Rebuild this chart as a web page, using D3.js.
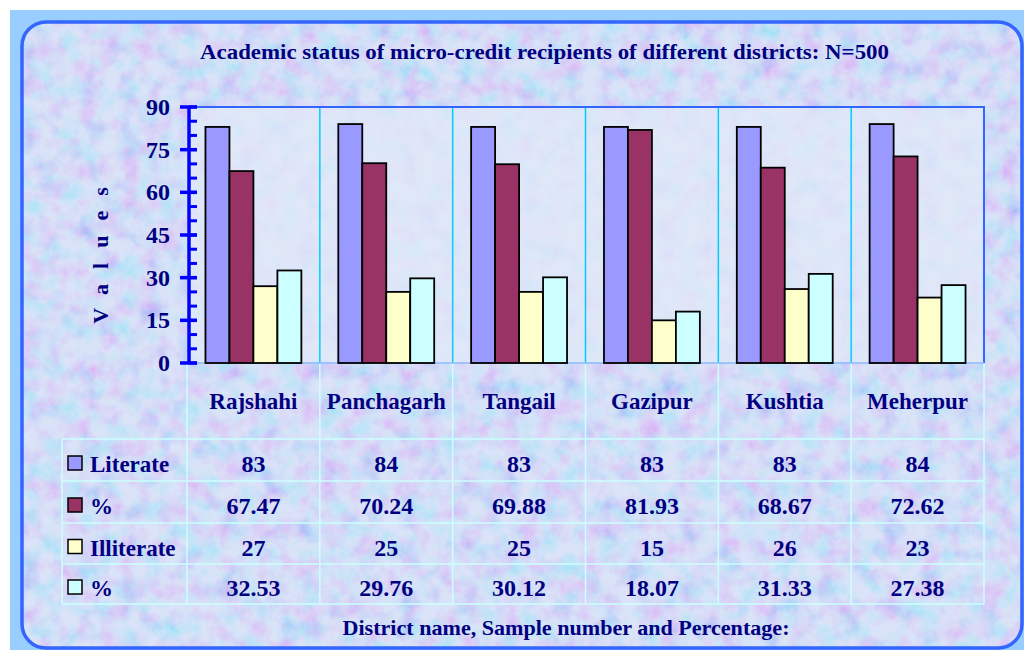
<!DOCTYPE html>
<html>
<head>
<meta charset="utf-8">
<script src="https://cdn.jsdelivr.net/npm/d3@7"></script>
<style>
	body { margin: 0; background: #fff; }
	svg { display: block; font-family: "Liberation Serif", "Times New Roman", serif; font-weight: bold; }
	.lbl { fill: #000080; }
</style>
</head>
<body>
<svg width="1024" height="650"></svg>
<script>
const districts = ["Rajshahi", "Panchagarh", "Tangail", "Gazipur", "Kushtia", "Meherpur"]
const seriesNames = ["Literate", "%", "Illiterate", "%"]
const literate = [83, 84, 83, 83, 83, 84]
const literatePct = [67.47, 70.24, 69.88, 81.93, 68.67, 72.62]
const illiterate = [27, 25, 25, 15, 26, 23]
const illiteratePct = [32.53, 29.76, 30.12, 18.07, 31.33, 27.38]
const yTicks = [0, 15, 30, 45, 60, 75, 90]
const colors = ["#9999ff", "#993366", "#ffffcc", "#ccffff"]

const series = [literate, literatePct, illiterate, illiteratePct]
const rowText = [
	literate.map(String),
	literatePct.map((d) => d.toFixed(2)),
	illiterate.map(String),
	illiteratePct.map((d) => d.toFixed(2)),
]

const svg = d3.select("svg")

// mottled pastel texture
const defs = svg.append("defs")
const f = defs.append("filter").attr("id", "tex").attr("x", 0).attr("y", 0).attr("width", 1).attr("height", 1)
f.append("feTurbulence").attr("type", "fractalNoise").attr("baseFrequency", 0.05).attr("numOctaves", 4).attr("seed", 7)
f.append("feColorMatrix")
	.attr("type", "matrix")
	.attr("values", "1.7 0 0 0 -0.02  0 1.5 0 0 0.1  0 0 0 0 0.97  0 0 0 0 0.38")
f.append("feComposite").attr("in2", "SourceGraphic").attr("operator", "in")

svg.append("rect").attr("x", 10).attr("y", 10).attr("width", 1014).attr("height", 640).attr("fill", "#99ccff")

const frame = { x: 22, y: 22, w: 1000, h: 626 }
svg.append("rect")
	.attr("x", frame.x).attr("y", frame.y).attr("width", frame.w).attr("height", frame.h)
	.attr("rx", 24)
	.attr("fill", "#c4d2f4")
svg.append("rect")
	.attr("x", frame.x).attr("y", frame.y).attr("width", frame.w).attr("height", frame.h)
	.attr("rx", 24)
	.attr("fill", "#c4d2f4")
	.attr("filter", "url(#tex)")
svg.append("rect")
	.attr("x", frame.x).attr("y", frame.y).attr("width", frame.w).attr("height", frame.h)
	.attr("rx", 24)
	.attr("fill", "none")
	.attr("stroke", "#3366ff")
	.attr("stroke-width", 3.5)

// scales
const x = d3.scaleBand().domain(districts).range([187, 984])
const xs = d3.scaleBand().domain(d3.range(4)).range([0, x.bandwidth()]).paddingOuter(0.77)
const y = d3.scaleLinear().domain([0, 90]).range([363, 107])

// plot area
svg.append("rect")
	.attr("x", x.range()[0]).attr("y", y(90))
	.attr("width", x.range()[1] - x.range()[0]).attr("height", y(0) - y(90))
	.attr("fill", "#e2eaf8")
	.attr("opacity", 0.75)

// table grid
const tableLeft = 62
const rowLines = [439, 481, 523, 564, 604]
const grid = svg.append("g").attr("stroke", "#ccffff").attr("stroke-width", 1.5)
grid.selectAll("line.h")
	.data(rowLines)
	.enter()
	.append("line")
	.attr("x1", tableLeft).attr("x2", x.range()[1])
	.attr("y1", (d) => d).attr("y2", (d) => d)
grid.selectAll("line.v")
	.data(districts.concat(["end"]))
	.enter()
	.append("line")
	.attr("x1", (d, i) => x.range()[0] + i * x.step())
	.attr("x2", (d, i) => x.range()[0] + i * x.step())
	.attr("y1", y(0)).attr("y2", rowLines[4])
grid.append("line").attr("x1", tableLeft).attr("x2", tableLeft).attr("y1", rowLines[0]).attr("y2", rowLines[4])

// category separators in the plot
svg.append("g")
	.selectAll("line")
	.data(districts.slice(1))
	.enter()
	.append("line")
	.attr("x1", (d) => x(d)).attr("x2", (d) => x(d))
	.attr("y1", y(90)).attr("y2", y(0))
	.attr("stroke", "#00ccff").attr("stroke-width", 1.5)

// plot border top / right
svg.append("path")
	.attr("d", `M${x.range()[0]},${y(90)}H${x.range()[1]}V${y(0)}`)
	.attr("fill", "none").attr("stroke", "#3366ff").attr("stroke-width", 2)
svg.append("line")
	.attr("x1", x.range()[0]).attr("x2", x.range()[1])
	.attr("y1", y(0)).attr("y2", y(0))
	.attr("stroke", "#88bbff").attr("stroke-width", 1.5)

// bars
const groups = svg.selectAll("g.district")
	.data(districts)
	.enter()
	.append("g")
	.attr("class", "district")
	.attr("transform", (d) => `translate(${x(d)},0)`)

groups.selectAll("rect")
	.data((d, i) => series.map((s, k) => ({ k: k, v: s[i] })))
	.enter()
	.append("rect")
	.attr("x", (d) => xs(d.k))
	.attr("width", xs.bandwidth())
	.attr("y", (d) => y(d.v))
	.attr("height", (d) => y(0) - y(d.v))
	.attr("fill", (d) => colors[d.k])
	.attr("stroke", "#000")
	.attr("stroke-width", 1.8)

// y axis
const yAxis = svg.append("g").attr("transform", `translate(${x.range()[0] + 2},0)`)
yAxis.append("line").attr("y1", y(90)).attr("y2", y(0)).attr("stroke", "#0000ff").attr("stroke-width", 3.5)
yAxis.selectAll("line.minor")
	.data(d3.range(0, 91, 5))
	.enter()
	.append("line")
	.attr("x1", 0).attr("x2", 8)
	.attr("y1", (d) => y(d)).attr("y2", (d) => y(d))
	.attr("stroke", "#0000ff").attr("stroke-width", 3)
yAxis.selectAll("line.major")
	.data(yTicks)
	.enter()
	.append("line")
	.attr("x1", -9).attr("x2", 8)
	.attr("y1", (d) => y(d)).attr("y2", (d) => y(d))
	.attr("stroke", "#0000ff").attr("stroke-width", 3.5)
svg.append("g")
	.selectAll("text")
	.data(yTicks)
	.enter()
	.append("text")
	.attr("class", "lbl")
	.attr("x", 170)
	.attr("y", (d) => y(d) + 8)
	.attr("text-anchor", "end")
	.attr("font-size", 24)
	.text((d) => d)

svg.append("text")
	.attr("class", "lbl")
	.attr("transform", "translate(108,248) rotate(-90)")
	.attr("text-anchor", "middle")
	.attr("font-size", 22)
	.attr("letter-spacing", 15)
	.text("Values")

// title
svg.append("text")
	.attr("class", "lbl")
	.attr("x", 200).attr("y", 59)
	.attr("font-size", 22)
	.attr("textLength", 689)
	.attr("lengthAdjust", "spacingAndGlyphs")
	.text("Academic status of micro-credit recipients of different districts: N=500")

// category names
svg.append("g")
	.selectAll("text")
	.data(districts)
	.enter()
	.append("text")
	.attr("class", "lbl")
	.attr("x", (d) => x(d) + x.bandwidth() / 2)
	.attr("y", 409)
	.attr("text-anchor", "middle")
	.attr("font-size", 23)
	.text((d) => d)

// table rows
const rows = svg.selectAll("g.row")
	.data(seriesNames)
	.enter()
	.append("g")
	.attr("class", "row")
	.attr("transform", (d, i) => `translate(0,${(rowLines[i] + rowLines[i + 1]) / 2})`)

rows.append("rect")
	.attr("x", 68).attr("y", -4).attr("width", 14).attr("height", 14)
	.attr("fill", (d, i) => colors[i])
	.attr("stroke", "#000").attr("stroke-width", 1.5)
rows.append("text")
	.attr("class", "lbl")
	.attr("x", 90).attr("y", 12)
	.attr("font-size", 23)
	.text((d) => d)

rows.selectAll("text.val")
	.data((d, i) => rowText[i])
	.enter()
	.append("text")
	.attr("class", "lbl val")
	.attr("x", (d, j) => x(districts[j]) + x.bandwidth() / 2)
	.attr("y", 12)
	.attr("text-anchor", "middle")
	.attr("font-size", 24)
	.text((d) => d)

svg.append("text")
	.attr("class", "lbl")
	.attr("x", 566).attr("y", 635)
	.attr("text-anchor", "middle")
	.attr("font-size", 22)
	.attr("textLength", 447)
	.attr("lengthAdjust", "spacingAndGlyphs")
	.text("District name, Sample number and Percentage:")
</script>
</body>
</html>
